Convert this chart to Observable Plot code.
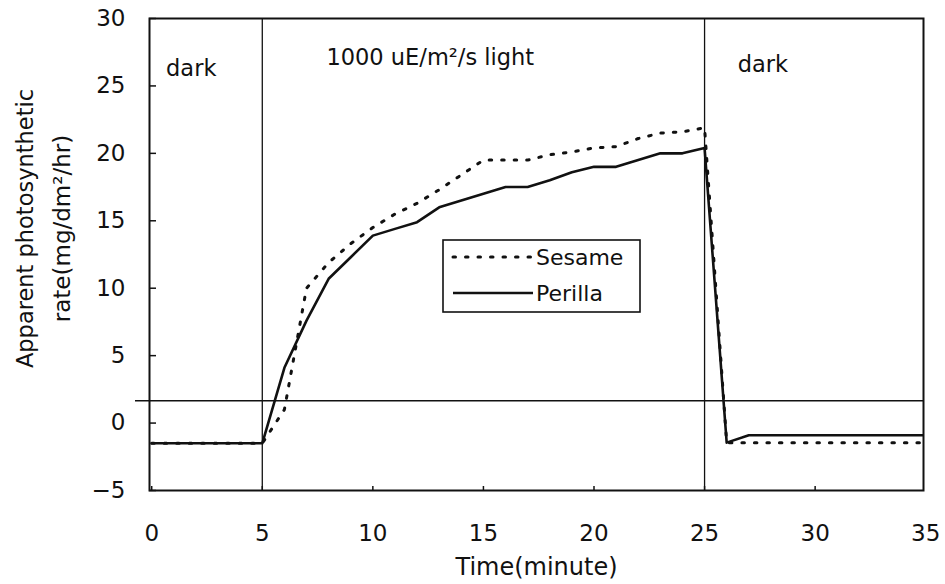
<!DOCTYPE html>
<html>
<head>
<meta charset="utf-8">
<script src="https://cdn.jsdelivr.net/npm/d3@7"></script>
<script src="https://cdn.jsdelivr.net/npm/@observablehq/plot@0.6"></script>
<style>
  body { margin: 0; background: #fff; }
  #wrap { position: relative; width: 945px; height: 584px; font-family: "DejaVu Sans", sans-serif; }
  #legend { position: absolute; left: 442px; top: 239px; }
</style>
</head>
<body>
<div id="wrap"></div>
<script>
// ---- data ----
const seriesNames = ["Sesame", "Perilla"];

const sesameTime = [0, 5, 6, 7, 8, 9, 10, 11, 12, 13, 14, 15, 16, 17, 18, 19, 20, 21, 22, 23, 24, 25, 26, 35];
const sesameRate = [-1.5, -1.5, 1.0, 10.0, 11.9, 13.3, 14.5, 15.5, 16.3, 17.3, 18.4, 19.5, 19.5, 19.5, 19.9, 20.1, 20.4, 20.5, 21.1, 21.5, 21.6, 21.9, -1.45, -1.45];

const perillaTime = [0, 5, 6, 7, 8, 9, 10, 11, 12, 13, 14, 15, 16, 17, 18, 19, 20, 21, 22, 23, 24, 25, 26, 27, 35];
const perillaRate = [-1.5, -1.5, 4.1, 7.6, 10.7, 12.3, 13.9, 14.4, 14.9, 16.0, 16.5, 17.0, 17.5, 17.5, 18.0, 18.6, 19.0, 19.0, 19.5, 20.0, 20.0, 20.4, -1.45, -0.9, -0.9];

const phaseBounds = [5, 25];          // dark -> light -> dark switches (minutes)
const referenceLevel = [1.65];        // horizontal reference line
const xTicks = [0, 5, 10, 15, 20, 25, 30, 35];
const yTicks = [-5, 0, 5, 10, 15, 20, 25, 30];

const phaseLabels = ["dark", "1000 uE/m\u00B2/s light", "dark"];
const phaseLabelTime = [0.65, 7.9, 26.5];
const phaseLabelRate = [26.3, 27.05, 26.6];

const xTitle = "Time(minute)";
const yTitleLines = ["Apparent photosynthetic", "rate(mg/dm\u00B2/hr)"];

// ---- tables built from the arrays ----
const sesame = sesameTime.map((t, i) => ({t, v: sesameRate[i]}));
const perilla = perillaTime.map((t, i) => ({t, v: perillaRate[i]}));
const phases = phaseLabels.map((s, i) => ({s, t: phaseLabelTime[i], v: phaseLabelRate[i]}));

const ink = "#111";
const W = 945, H = 584, mL = 149, mR = 22, mT = 18, mB = 94;
const frameW = W - mL - mR, frameH = H - mT - mB;

const chart = Plot.plot({
  width: W,
  height: H,
  marginLeft: mL,
  marginRight: mR,
  marginTop: mT,
  marginBottom: mB,
  style: {fontFamily: "DejaVu Sans, sans-serif", fontSize: "22px", color: ink, background: "#fff"},
  x: {domain: [-0.1, 34.9]},
  y: {domain: [-5, 30]},
  marks: [
    Plot.ruleX(phaseBounds, {stroke: ink, strokeWidth: 1.3}),
    Plot.ruleY(referenceLevel, {stroke: ink, strokeWidth: 1.5, insetLeft: -14}),
    // inward tick marks
    Plot.ruleY(yTicks, {stroke: ink, strokeWidth: 1.5, insetRight: frameW - 7}),
    Plot.ruleX(xTicks, {stroke: ink, strokeWidth: 1.5, insetTop: frameH - 4, clip: true}),
    Plot.line(sesame, {x: "t", y: "v", stroke: ink, strokeWidth: 3, strokeDasharray: "2.5,10", strokeLinecap: "round", clip: true}),
    Plot.line(perilla, {x: "t", y: "v", stroke: ink, strokeWidth: 2.6, clip: true}),
    Plot.text(phases, {x: "t", y: "v", text: "s", textAnchor: "start", fontSize: 22.5, fill: ink}),
    Plot.axisY({ticks: yTicks, tickSize: 0, tickPadding: 24, label: null, fontSize: 23}),
    Plot.axisX({ticks: xTicks, tickSize: 0, tickPadding: 34, label: null, fontSize: 23}),
    Plot.text([xTitle], {frameAnchor: "bottom", lineAnchor: "middle", dy: 77, fontSize: 24, fill: ink}),
    Plot.text([yTitleLines[0]], {frameAnchor: "left", textAnchor: "middle", dx: -124, dy: -26, rotate: -90, fontSize: 22.5, fill: ink}),
    Plot.text([yTitleLines[1]], {frameAnchor: "left", textAnchor: "middle", dx: -87, dy: -26, rotate: -90, fontSize: 23, fill: ink}),
    Plot.frame({stroke: ink, strokeWidth: 2})
  ]
});

const wrap = document.getElementById("wrap");
wrap.appendChild(chart);

// ---- legend box inside the plot area ----
const lw = 198, lh = 73;
const legend = d3.create("svg")
  .attr("id", "legend")
  .attr("width", lw + 2)
  .attr("height", lh + 2)
  .style("font-family", "DejaVu Sans, sans-serif");
legend.append("rect")
  .attr("x", 1).attr("y", 1).attr("width", lw - 1).attr("height", lh - 1)
  .attr("fill", "#fff").attr("stroke", ink).attr("stroke-width", 1.6);
const styles = [
  {dash: "2.5,10", width: 3, cap: "round"},
  {dash: null, width: 2.6, cap: "butt"}
];
seriesNames.forEach((name, i) => {
  const cy = 18 + i * 36;
  const ln = legend.append("line")
    .attr("x1", 11).attr("x2", 91).attr("y1", cy).attr("y2", cy)
    .attr("stroke", ink).attr("stroke-width", styles[i].width)
    .attr("stroke-linecap", styles[i].cap);
  if (styles[i].dash) ln.attr("stroke-dasharray", styles[i].dash);
  legend.append("text")
    .attr("x", 94).attr("y", cy).attr("dy", "0.36em")
    .attr("font-size", 22).attr("fill", ink)
    .text(name);
});
wrap.appendChild(legend.node());
</script>
</body>
</html>
